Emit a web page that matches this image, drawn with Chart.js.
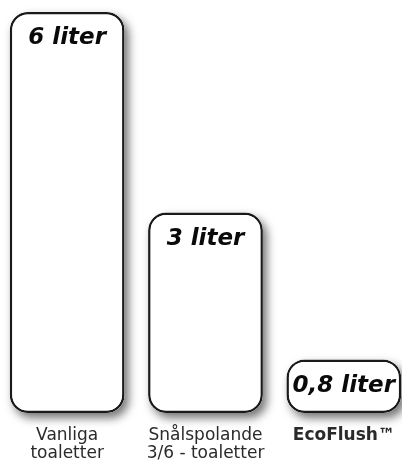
<!DOCTYPE html>
<html>
<head>
<meta charset="utf-8">
<script src="https://cdn.jsdelivr.net/npm/chart.js@4"></script>
<style>
  html, body { margin: 0; padding: 0; background: #fff; overflow: hidden; }
  #wrap { width: 415px; height: 463px; margin-left: -2px; }
</style>
</head>
<body>
<div id="wrap"><canvas id="flushChart"></canvas></div>
<script>
// data
let categories = [['Vanliga', 'toaletter'], ['Snålspolande', '3/6 - toaletter'], 'EcoFlush™'];
let liters = [6, 3, 0.8];
let valueLabels = ['6 liter', '3 liter', '0,8 liter'];

// soft drop shadow behind each bar
const barShadow = {
    id: 'barShadow',
    beforeDatasetsDraw(chart) {
        let ctx = chart.ctx;
        ctx.save();
        ctx.shadowColor = 'rgba(0,0,0,0.55)';
        ctx.shadowBlur = 10;
        ctx.shadowOffsetX = 4;
        ctx.shadowOffsetY = 5;
        ctx.fillStyle = '#fff';
        chart.getDatasetMeta(0).data.forEach(bar => {
            ctx.beginPath();
            ctx.roundRect(bar.x - bar.width / 2, bar.y, bar.width, bar.base - bar.y, 18);
            ctx.fill();
        });
        ctx.restore();
    }
};

// "x liter" text at the top of each bar
const barText = {
    id: 'barText',
    afterDatasetsDraw(chart) {
        let ctx = chart.ctx;
        ctx.save();
        ctx.font = 'italic bold 23px "DejaVu Sans"';
        ctx.fillStyle = '#0a0a0a';
        ctx.textAlign = 'center';
        ctx.textBaseline = 'alphabetic';
        chart.getDatasetMeta(0).data.forEach((bar, i) => {
            ctx.fillText(valueLabels[i], bar.x, bar.y + 32);
        });
        ctx.restore();
    }
};

let flushChart;

function drawChart() {
    let ctx = document.getElementById('flushChart').getContext('2d');
    flushChart = new Chart(ctx, {
        type: 'bar',
        data: {
            labels: categories,
            datasets: [{
                data: liters,
                backgroundColor: '#ffffff',
                borderColor: '#1a1a1a',
                borderWidth: 2.5,
                borderSkipped: false,
                borderRadius: 18,
                barPercentage: 0.83,
                categoryPercentage: 1,
                clip: false
            }]
        },
        options: {
            responsive: true,
            maintainAspectRatio: false,
            animation: false,
            layout: {
                padding: { top: 12, bottom: 0, left: 0, right: 0 }
            },
            plugins: {
                legend: { display: false },
                tooltip: { enabled: false }
            },
            scales: {
                x: {
                    grid: { display: false, drawTicks: false },
                    border: { display: false },
                    afterFit: scale => { scale.height = 50; },
                    ticks: {
                        color: '#2a2a2a',
                        padding: 14,
                        maxRotation: 0,
                        autoSkip: false,
                        font: c => c.index === 2
                            ? { family: 'DejaVu Sans', size: 17, weight: 'bold', lineHeight: 1.05 }
                            : { family: 'DejaVu Sans', size: 17, lineHeight: 1.05 }
                    }
                },
                y: {
                    display: false,
                    min: 0,
                    max: 6
                }
            }
        },
        plugins: [barShadow, barText]
    });
}

document.addEventListener('DOMContentLoaded', () => {
    drawChart();
});
</script>
</body>
</html>
